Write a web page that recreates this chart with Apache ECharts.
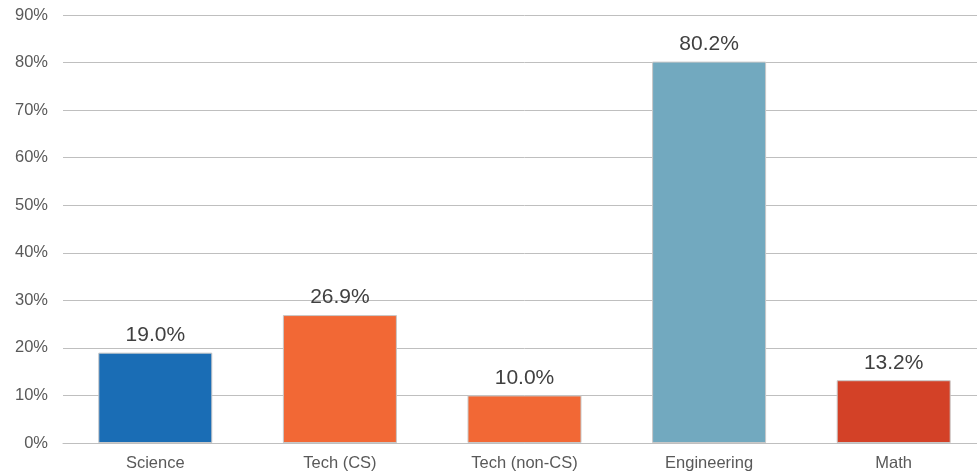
<!DOCTYPE html>
<html>
<head>
<meta charset="utf-8">
<script src="https://cdn.jsdelivr.net/npm/echarts@6/dist/echarts.min.js"></script>
<style>
  html, body { margin: 0; padding: 0; background: #fff; overflow: hidden; }
  #chart { width: 986px; height: 475px; }
</style>
</head>
<body>
<div id="chart"></div>
<script>
const categories = ['Science', 'Tech (CS)', 'Tech (non-CS)', 'Engineering', 'Math']
const values = [19.0, 26.9, 10.0, 80.2, 13.2]
const barColors = ['#1a6db5', '#f26835', '#f26835', '#72a9bf', '#d34127']

const chart = echarts.init(document.getElementById('chart'))

chart.setOption({
  animation: false,
  textStyle: { fontFamily: 'Liberation Sans, Arial, sans-serif' },
  grid: { left: 63, right: 0, top: 15, bottom: 32 },
  xAxis: {
    type: 'category',
    data: categories,
    axisLine: { show: true, lineStyle: { color: '#bfbfbf', width: 1 } },
    axisTick: { show: false },
    axisLabel: { color: '#595959', fontSize: 16.5, margin: 12 }
  },
  yAxis: {
    type: 'value',
    min: 0,
    max: 90,
    interval: 10,
    axisLine: { show: false },
    axisTick: { show: false },
    axisLabel: { color: '#595959', fontSize: 16.5, margin: 15, formatter: '{value}%' },
    splitLine: { lineStyle: { color: '#bfbfbf', width: 1 } }
  },
  series: [{
    type: 'bar',
    barWidth: 114,
    data: values.map((v, i) => ({
      value: v,
      itemStyle: { color: barColors[i], borderColor: '#c8c8c8', borderWidth: 1 }
    })),
    label: {
      show: true,
      position: 'top',
      distance: 7,
      color: '#404040',
      fontSize: 21,
      formatter: p => p.value.toFixed(1) + '%'
    }
  }]
})
</script>
</body>
</html>
